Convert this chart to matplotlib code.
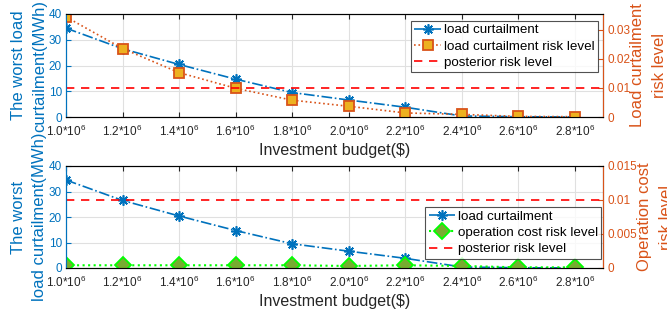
import numpy as np
import matplotlib.pyplot as plt

plt.rcParams['font.family'] = ['Liberation Sans', 'DejaVu Sans']
plt.rcParams['mathtext.fontset'] = 'custom'
plt.rcParams['mathtext.rm'] = 'Liberation Sans'

budget = [1.0e6, 1.2e6, 1.4e6, 1.6e6, 1.8e6, 2.0e6, 2.2e6, 2.4e6, 2.6e6, 2.8e6]
tick_labels = [r'1.0*10$^6$', r'1.2*10$^6$', r'1.4*10$^6$', r'1.6*10$^6$', r'1.8*10$^6$',
               r'2.0*10$^6$', r'2.2*10$^6$', r'2.4*10$^6$', r'2.6*10$^6$', r'2.8*10$^6$']

load_curt = [34.5, 26.5, 20.4, 14.7, 9.5, 6.6, 3.8, 0.4, 0.1, 0.0]
load_risk = [0.0345, 0.0236, 0.0153, 0.0099, 0.0058, 0.0037, 0.0014, 0.0009, 0.0002, 0.0001]
cost_risk = [0.0004, 0.0004, 0.0004, 0.0004, 0.0004, 0.0003, 0.0004, 0.0003, 0.0001, 0.0001]
posterior = 0.01

blue = '#0072BD'
orange = '#D95319'
gold = '#EDB120'
olive = '#77AC30'
asterisk = (8, 2, 0)

fig = plt.figure(figsize=(6.67, 3.16), dpi=100)
W, H = 667, 316


def setup(ax, ax2, ylim2, yticks2, yticklabels2):
    ax.set_xlim(1.0e6, 2.9e6)
    ax.set_ylim(0, 40)
    ax.set_yticks([0, 10, 20, 30, 40])
    ax.set_xticks(budget)
    ax.set_xticklabels(tick_labels)
    ax.grid(True, color='#e0e0e0', linewidth=0.8)
    ax.set_axisbelow(True)
    ax.tick_params(axis='x', direction='in', colors='#262626', labelsize=8.5, top=True, pad=5)
    ax.tick_params(axis='y', direction='in', colors=blue, labelsize=8.5, pad=3)
    ax.spines['left'].set_color(blue)
    ax.spines['top'].set_color('#262626')
    ax.spines['bottom'].set_color('#262626')
    ax.set_xlabel('Investment budget($)', fontsize=11.5, color='#262626', labelpad=3)
    ax2.set_ylim(*ylim2)
    ax2.set_yticks(yticks2)
    ax2.set_yticklabels(yticklabels2)
    ax2.tick_params(axis='y', direction='in', colors=orange, labelsize=8.5, pad=3)
    ax2.spines['right'].set_color(orange)
    ax2.spines['left'].set_color(blue)


leg_kw = dict(fontsize=9.6, frameon=True, fancybox=False, edgecolor='#262626',
              handlelength=2.0, handletextpad=0.2, borderpad=0.25, labelspacing=0.3,
              borderaxespad=0)

# top panel
ax = fig.add_axes([66 / W, 1 - 117 / H, 537 / W, 103 / H])
ax2 = ax.twinx()
l1, = ax.plot(budget, load_curt, linestyle='-.', color=blue, linewidth=1.2,
              marker=asterisk, markersize=7.5, markeredgewidth=1.2, label='load curtailment')
l2, = ax2.plot(budget, load_risk, linestyle=':', color=orange, linewidth=1.2,
               marker='s', markersize=7.5, markerfacecolor=gold, markeredgecolor=orange,
               markeredgewidth=1.3, label='load curtailment risk level')
l3 = ax2.axhline(posterior, linestyle='--', color='#FF0000', linewidth=1.2,
                 dashes=(5, 4), label='posterior risk level')
setup(ax, ax2, (0, 0.0355), [0, 0.01, 0.02, 0.03], ['0', '0.01', '0.02', '0.03'])
ax.set_ylabel('The worst load\ncurtailment(MWh)', fontsize=12, color=blue, labelpad=1,
              linespacing=1.55)
ax2.set_ylabel('Load curtailment\nrisk level', fontsize=12, color=orange, labelpad=0,
               linespacing=1.55)
leg = ax2.legend(handles=[l1, l2, l3], loc='upper right', bbox_to_anchor=(0.99, 0.935),
                 **leg_kw)
leg.get_frame().set_linewidth(0.8)

# bottom panel
bx = fig.add_axes([66 / W, 1 - 268 / H, 537 / W, 102 / H])
bx2 = bx.twinx()
m1, = bx.plot(budget, load_curt, linestyle='-.', color=blue, linewidth=1.2,
              marker=asterisk, markersize=7.5, markeredgewidth=1.2, label='load curtailment')
m2, = bx2.plot(budget, cost_risk, linestyle=':', color='#00FF00', linewidth=1.5,
               marker='D', markersize=8, markerfacecolor=olive, markeredgecolor='#00FF00',
               markeredgewidth=1.3, label='operation cost risk level')
m3 = bx2.axhline(posterior, linestyle='--', color='#FF0000', linewidth=1.2,
                 dashes=(5, 4), label='posterior risk level')
setup(bx, bx2, (0, 0.015), [0, 0.005, 0.01, 0.015], ['0', '0.005', '0.01', '0.015'])
bx.set_ylabel('The worst\nload curtailment(MWh)', fontsize=12, color=blue, labelpad=1,
              linespacing=1.55)
bx2.set_ylabel('Operation cost\nrisk level', fontsize=12, color=orange, labelpad=0,
               linespacing=1.55)
leg2 = bx2.legend(handles=[m1, m2, m3], loc='lower right', bbox_to_anchor=(0.997, 0.09),
                  **leg_kw)
leg2.get_frame().set_linewidth(0.8)

fig.savefig('out.png', dpi=100)
